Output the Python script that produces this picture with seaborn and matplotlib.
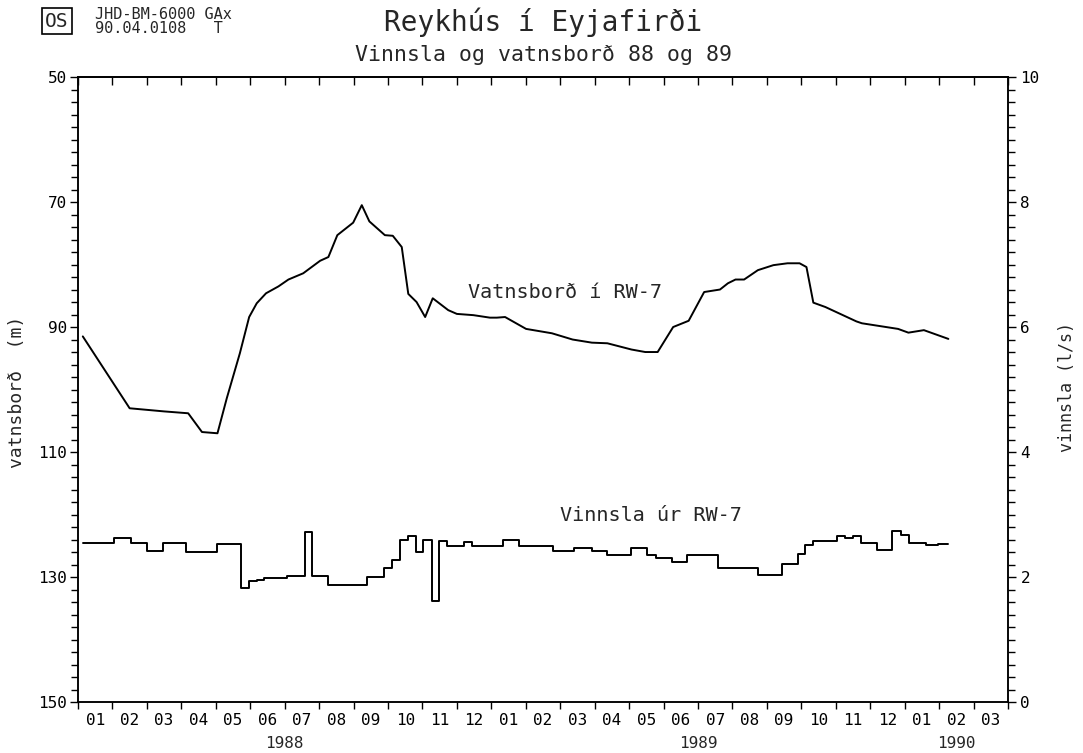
import matplotlib
matplotlib.use('Agg')
import matplotlib.pyplot as plt
from matplotlib.ticker import MultipleLocator
from matplotlib.transforms import blended_transform_factory
import pandas as pd
import seaborn as sns

# months counted from 1 Jan 1988 (0 = start of Jan 1988)
level_month = [0.14, 1.50, 2.50, 3.20, 3.60, 4.05, 4.32, 4.70, 4.97, 5.19, 5.46, 5.82,
               6.11, 6.54, 7.03, 7.27, 7.53, 7.99, 8.24, 8.46, 8.91, 9.14, 9.40, 9.59,
               9.83, 10.08, 10.30, 10.75, 11.00, 11.48, 11.96, 12.16, 12.40, 13.01, 13.76,
               14.36, 14.92, 15.37, 16.07, 16.47, 16.83, 17.28, 17.73, 18.18, 18.64, 18.87,
               19.09, 19.34, 19.74, 20.19, 20.60, 20.95, 21.15, 21.35, 21.70, 22.60, 22.76,
               23.81, 24.11, 24.56, 25.27]
level_m = [91.5, 103.0, 103.5, 103.8, 106.8, 107.0, 101.4, 94.2, 88.4, 86.2, 84.6, 83.5,
           82.4, 81.4, 79.4, 78.8, 75.3, 73.3, 70.5, 73.1, 75.3, 75.4, 77.2, 84.7,
           86.0, 88.4, 85.4, 87.3, 87.9, 88.1, 88.5, 88.5, 88.4, 90.3, 91.0,
           92.0, 92.5, 92.6, 93.6, 94.0, 94.0, 90.0, 89.0, 84.4, 84.0, 83.0,
           82.4, 82.4, 80.9, 80.1, 79.8, 79.8, 80.4, 86.1, 86.8, 89.1, 89.4,
           90.3, 90.9, 90.5, 91.9]

pump_month = [0.14, 1.05, 1.53, 1.99, 2.46, 3.14, 4.05, 4.73, 4.97, 5.19, 5.40, 6.06,
              6.59, 6.80, 7.25, 8.40, 8.88, 9.11, 9.35, 9.59, 9.80, 10.03, 10.27, 10.49,
              10.72, 11.21, 11.43, 12.35, 12.81, 13.78, 14.41, 14.92, 15.37, 16.05, 16.52,
              16.78, 17.25, 17.68, 18.59, 19.74, 20.44, 20.90, 21.12, 21.35, 22.05, 22.28,
              22.50, 22.73, 23.19, 23.63, 23.89, 24.13, 24.62, 24.97, 25.27]
pump_ls = [2.54, 2.63, 2.54, 2.41, 2.54, 2.40, 2.53, 1.82, 1.94, 1.96, 1.99, 2.02,
           2.72, 2.02, 1.88, 2.00, 2.14, 2.28, 2.60, 2.65, 2.40, 2.60, 1.62, 2.58,
           2.50, 2.56, 2.50, 2.60, 2.49, 2.42, 2.47, 2.41, 2.36, 2.47, 2.36,
           2.30, 2.24, 2.36, 2.14, 2.03, 2.21, 2.37, 2.52, 2.58, 2.66, 2.63,
           2.65, 2.54, 2.43, 2.74, 2.67, 2.54, 2.51, 2.53, 2.53]

month_labels = ['01', '02', '03', '04', '05', '06', '07', '08', '09', '10', '11', '12',
                '01', '02', '03', '04', '05', '06', '07', '08', '09', '10', '11', '12',
                '01', '02', '03']
year_labels = ['1988', '1989', '1990']

sns.set_theme(style='ticks')
plt.rcParams['font.family'] = ['DejaVu Sans Mono', 'DejaVu Sans']
plt.rcParams['axes.linewidth'] = 1.1
plt.rcParams['xtick.color'] = 'black'
plt.rcParams['ytick.color'] = 'black'

fig = plt.figure(figsize=(10.83, 7.53), dpi=100)
ax = fig.add_axes([0.072, 0.0677, 0.8587, 0.830])

level_df = pd.DataFrame({'month': level_month, 'level': level_m})
sns.lineplot(data=level_df, x='month', y='level', ax=ax, color='black', lw=1.4)

n_months = len(month_labels)
ax.set_xlim(0, n_months)
ax.set_ylim(150, 50)
ax.set_xlabel('')
ax.set_ylabel('')

ax.set_xticks(range(n_months + 1))
ax.set_xticklabels([])
ax.set_xticks([k + 0.5 for k in range(n_months)], minor=True)
ax.set_xticklabels(month_labels, minor=True, fontsize=11.5)
ax.tick_params(axis='x', which='major', direction='out', length=5, width=1)
ax.tick_params(axis='x', which='minor', length=0, pad=8)

ax.set_yticks(range(50, 151, 20))
ax.yaxis.set_minor_locator(MultipleLocator(2))
ax.tick_params(axis='y', which='major', direction='out', length=6, width=1,
               labelsize=11.5, pad=2)
ax.tick_params(axis='y', which='minor', direction='out', length=5, width=1)

top = ax.secondary_xaxis('top')
top.set_xticks(range(n_months + 1))
top.set_xticklabels([])
top.tick_params(direction='in', length=6, width=1)

trans = blended_transform_factory(ax.transData, ax.transAxes)
for i, yr in enumerate(year_labels):
    start = 12 * i
    end = min(12 * i + 12, n_months)
    ax.text((start + end) / 2, -0.066, yr, transform=trans, ha='center', va='center',
            fontsize=11.5)

ax.text(11.32, 84.4, 'Vatnsborð í RW-7', fontsize=14.5, ha='left', va='center')
ax.text(14.0, 120.2, 'Vinnsla úr RW-7', fontsize=14.5, ha='left', va='center')

ax2 = ax.twinx()
pump_df = pd.DataFrame({'month': pump_month, 'rate': pump_ls})
sns.lineplot(data=pump_df, x='month', y='rate', ax=ax2, color='black', lw=1.4,
             drawstyle='steps-post')
ax2.set_ylim(0, 10)
ax2.set_xlim(0, n_months)
ax2.set_xlabel('')
ax2.set_ylabel('')
ax2.set_yticks(range(0, 11, 2))
ax2.yaxis.set_minor_locator(MultipleLocator(0.2))
ax2.tick_params(axis='y', which='major', direction='out', length=6, width=1,
                labelsize=11.5, pad=3)
ax2.tick_params(axis='y', which='minor', direction='out', length=5, width=1)

for a in (ax, ax2):
    for s in a.spines.values():
        s.set_color('black')
        s.set_linewidth(1.1)

# axis titles
fig.text(17 / 1083, 1 - 392 / 753, 'vatnsborð  (m)', rotation=90, ha='center',
         va='center', fontsize=13)
fig.text(1067 / 1083, 1 - 387 / 753, 'vinnsla (l/s)', rotation=90, ha='center',
         va='center', fontsize=12)

fig.text(0.5014, 0.970, 'Reykhús í Eyjafirði', ha='center', va='center', fontsize=20)
fig.text(0.5014, 0.927, 'Vinnsla og vatnsborð 88 og 89', ha='center', va='center',
         fontsize=15.5)

fig.text(0.0526, 0.972, 'OS', ha='center', va='center', fontsize=14,
         bbox=dict(boxstyle='square,pad=0.18', fc='white', ec='black', lw=1.2))
fig.text(0.088, 0.981, 'JHD-BM-6000 GAx', ha='left', va='center', fontsize=11)
fig.text(0.088, 0.962, '90.04.0108   T', ha='left', va='center', fontsize=11)

fig.savefig('out.png', dpi=100, facecolor='white')
